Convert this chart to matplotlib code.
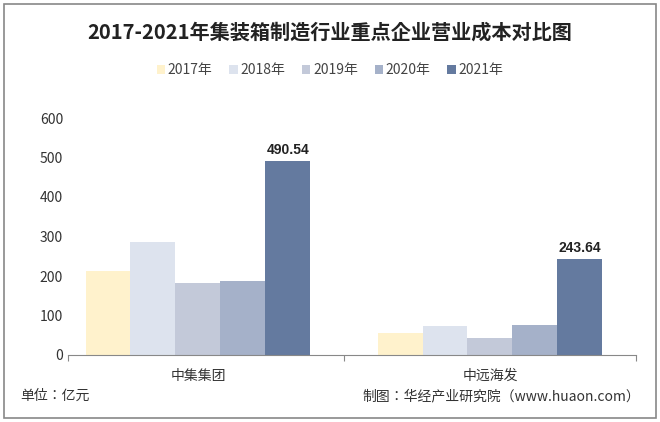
import matplotlib
matplotlib.use("Agg")
import matplotlib.pyplot as plt
from matplotlib import font_manager as fm
import numpy as np
from matplotlib.patches import Rectangle

names = {f.name for f in fm.fontManager.ttflist}
cjk = [n for n in ["Noto Sans CJK SC", "Noto Sans CJK JP", "Noto Sans CJK TC", "Noto Sans CJK KR"] if n in names]
plt.rcParams["font.family"] = cjk[:1] + ["DejaVu Sans"]

categories = ["中集集团", "中远海发"]
years = ["2017年", "2018年", "2019年", "2020年", "2021年"]
values = {
    "2017年": [213, 56],
    "2018年": [286, 73],
    "2019年": [182, 43],
    "2020年": [187, 76],
    "2021年": [490.54, 243.64],
}
colors = ["#FFF2CC", "#DDE3EE", "#C3C9D9", "#A5B1C9", "#647A9F"]

fig = plt.figure(figsize=(6.6, 4.22), dpi=100)
fig.patches.append(Rectangle((0.006, 0.01), 0.988, 0.98, transform=fig.transFigure,
                             fill=False, edgecolor="#888888", lw=1.2))
ax = fig.add_axes([68/660, 1-355/422, 568/660, 237/422])
x = np.arange(len(categories))
w = 0.154
for i, y in enumerate(years):
    off = (i - 2) * w
    bars = ax.bar(x + off, values[y], w, color=colors[i], label=y)
    if y == "2021年":
        for b, v in zip(bars, values[y]):
            ax.text(b.get_x() + b.get_width()/2, v + 10, f"{v:.2f}", ha="center",
                    va="bottom", fontsize=10, fontweight="bold", color="#222222",
                    family="Liberation Sans")
ax.set_xlim(-0.445, 1.5)
ax.set_ylim(0, 600)
ax.set_yticks(range(0, 601, 100))
ax.set_xticks([-0.445, 0.5, 1.5])
ax.set_xticklabels(["", "", ""])
ax.tick_params(axis="x", length=4, color="#888888")
for c, xc in zip(categories, x):
    ax.text(xc, -35, c, ha="center", va="top", fontsize=10, color="#333333")
ax.tick_params(axis="y", length=0, labelsize=10, labelcolor="#333333")
for s in ["top", "right", "left"]:
    ax.spines[s].set_visible(False)
ax.spines["bottom"].set_color("#888888")

fig.text(0.5, 1-32/422, "2017-2021年集装箱制造行业重点企业营业成本对比图", ha="center",
         va="center", fontsize=14.5, fontweight="bold", color="#222222")
ax.legend(loc="center", bbox_to_anchor=(0.5, 1-70/422), bbox_transform=fig.transFigure,
          ncol=5, frameon=False, fontsize=10, handlelength=0.6, handleheight=0.6,
          handletextpad=0.2, columnspacing=1.2, labelcolor="#444444")
fig.text(20/660, 1-396/422, "单位：亿元", fontsize=10, va="center", color="#333333")
fig.text(640/660, 1-396/422, "制图：华经产业研究院（www.huaon.com）", fontsize=10,
         va="center", ha="right", color="#333333")
fig.savefig("out.png", dpi=100)
